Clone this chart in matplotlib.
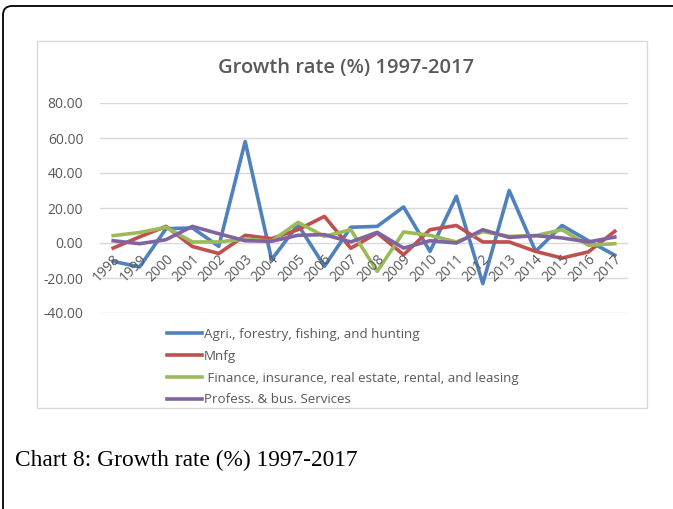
import matplotlib.pyplot as plt
from matplotlib.patches import FancyBboxPatch, Rectangle

years = [str(y) for y in range(1998, 2018)]

# growth rates (%) by sector
agri = [-10.5, -13.7, 8.2, 8.6, -1.9, 58.0, -9.5, 10.5, -13.3, 9.0,
        9.5, 20.6, -4.8, 26.7, -23.2, 30.0, -4.8, 10.0, 1.3, -7.0]
mnfg = [-2.9, 3.5, 9.5, -2.0, -6.0, 4.4, 2.5, 7.6, 15.2, -3.0,
        5.7, -6.7, 7.6, 10.0, 0.6, 0.6, -4.8, -8.6, -5.1, 6.7]
finance = [4.2, 6.0, 9.0, 0.6, 0.6, 2.3, 1.0, 11.8, 3.8, 7.6,
           -16.2, 6.3, 4.4, 0.6, 6.5, 3.8, 4.2, 7.6, -1.3, -0.4]
profess = [1.3, -0.4, 1.9, 9.5, 5.3, 1.3, 1.0, 4.4, 4.8, 0.6,
           6.1, -2.9, 1.3, 0.0, 7.6, 3.2, 4.2, 2.9, 0.6, 3.4]

series = [
    (agri, "Agri., forestry, fishing, and hunting", "#4f81bd"),
    (mnfg, "Mnfg", "#c0504d"),
    (finance, " Finance, insurance, real estate, rental, and leasing", "#9bbb59"),
    (profess, "Profess. & bus. Services", "#8064a2"),
]
yticks = [-40, -20, 0, 20, 40, 60, 80]

W, H = 673, 509
fig = plt.figure(figsize=(W / 100, H / 100), dpi=100)

# page layer in pixel units
bg = fig.add_axes([0, 0, 1, 1])
bg.set_xlim(0, W)
bg.set_ylim(H, 0)
bg.axis("off")
bg.add_patch(FancyBboxPatch((3, 6), 720, 540, boxstyle="round,pad=0,rounding_size=9",
                            fc="white", ec="black", lw=1.3))
bg.add_patch(Rectangle((37, 41), 610, 367, fc="white", ec="#d9d9d9", lw=1))
bg.text(346, 68, "Growth rate (%) 1997-2017", ha="center", va="center",
        fontsize=14.5, fontweight="semibold", color="#595959", family="Open Sans")
bg.text(15, 460, "Chart 8: Growth rate (%) 1997-2017", ha="left", va="center",
        fontsize=16.8, color="black", family="Liberation Serif")

ax = fig.add_axes([100 / W, (H - 313) / H, 528 / W, 210 / H])
ax.patch.set_alpha(0)
x = list(range(len(years)))
for vals, name, col in series:
    ax.plot(x, vals, color=col, lw=2.6, label=name)

ax.set_xlim(-0.5, len(years) - 0.5)
ax.set_ylim(-40, 80)
ax.set_yticks(yticks)
ax.set_yticklabels(["%.2f" % v for v in yticks], fontsize=10, color="#595959",
                   family="Open Sans")
ax.tick_params(axis="y", length=0, pad=12)
ax.set_xticks([])
ax.grid(axis="y", color="#d9d9d9", lw=1)
ax.set_axisbelow(True)
for s in ax.spines.values():
    s.set_visible(False)

# category labels hang off the zero line
for i, yr in enumerate(years):
    ax.annotate(yr, xy=(i, 0), xytext=(5, -14), textcoords="offset pixels",
                rotation=45, ha="right", va="center", rotation_mode="anchor",
                fontsize=10, color="#595959", family="Open Sans")

leg = fig.legend(loc="upper left", bbox_to_anchor=(167 / W, 1 - 328 / H),
                 frameon=False, handlelength=2.6, handletextpad=0.15,
                 labelspacing=0.66, borderpad=0, borderaxespad=0,
                 prop={"family": "Open Sans", "size": 9.6})
for t in leg.get_texts():
    t.set_color("#595959")

fig.savefig("out.png", dpi=100)
